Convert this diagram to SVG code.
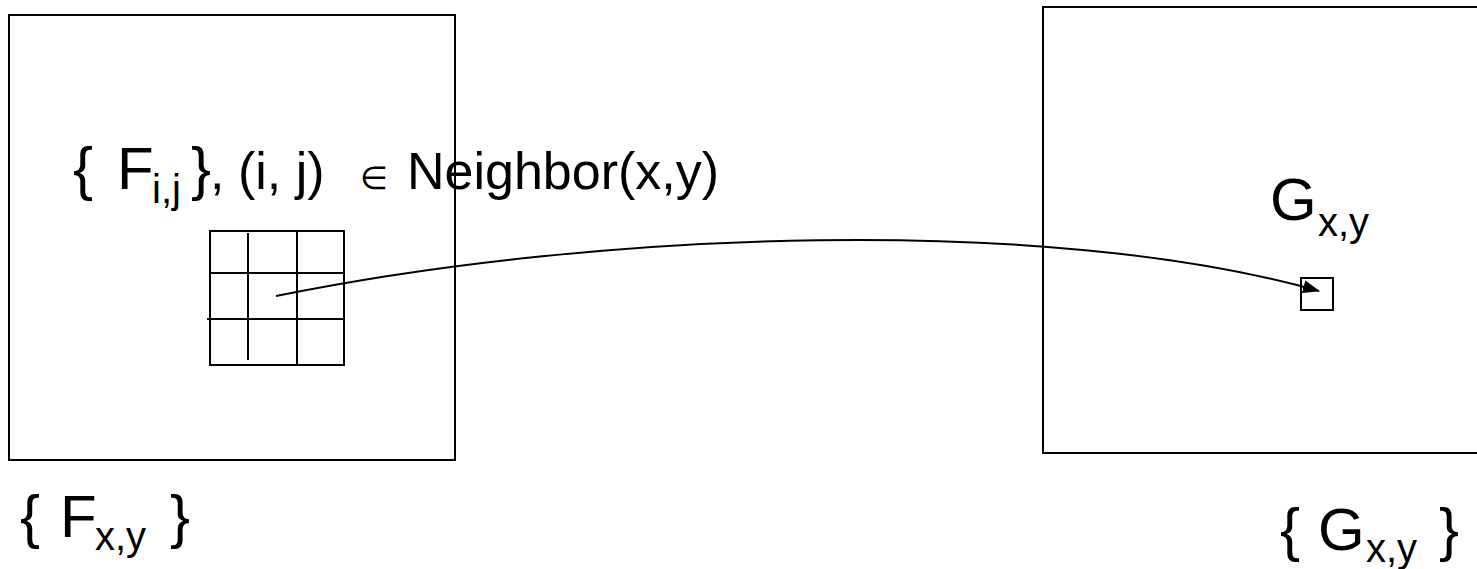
<svg xmlns="http://www.w3.org/2000/svg" width="1477" height="569" viewBox="0 0 1477 569">
<style>
.box{fill:none;stroke:#000;stroke-width:2}
.ln{stroke:#000;stroke-width:2;fill:none}
text{font-family:"Liberation Sans",Arial,sans-serif;fill:#000}
.big{font-size:60px}
.mid{font-size:52px}
.sub{font-size:40px}
.sym{font-family:"DejaVu Sans",sans-serif;font-size:32px}
</style>
<defs>
<marker id="ah" markerWidth="17" markerHeight="13" refX="16" refY="6.5" orient="auto" markerUnits="userSpaceOnUse">
<path d="M0,0 L17,6.5 L0,13 Z" fill="#000"/>
</marker>
</defs>
<rect width="1477" height="569" fill="#fff"/>
<g id="fieldF">
<rect class="box" x="9" y="15" width="446" height="445"/>
</g>
<g id="fieldG">
<rect class="box" x="1043" y="7" width="440" height="446"/>
</g>
<g id="neighborhood">
<rect class="box" x="210" y="231" width="134" height="134"/>
<line class="ln" x1="248" y1="233" x2="248" y2="360"/>
<line class="ln" x1="297" y1="231" x2="297" y2="365"/>
<line class="ln" x1="210" y1="273" x2="344" y2="273"/>
<line class="ln" x1="207" y1="319" x2="344" y2="319"/>
</g>
<g id="pixelG">
<rect class="box" x="1301" y="278" width="32" height="32"/>
</g>
<g id="labelNeighbor">
<text y="189"><tspan class="big" x="73">{</tspan><tspan class="big" x="117">F</tspan><tspan class="sub" x="152" y="203">i,j</tspan><tspan class="big" x="191" y="189">}</tspan><tspan class="mid" x="210">,</tspan><tspan class="mid" x="238">(i, j)</tspan><tspan class="sym" x="360">∈</tspan><tspan class="mid" x="407">Neighbor(x,y)</tspan></text>
</g>
<g id="labelGxy">
<text y="220"><tspan class="big" x="1270">G</tspan><tspan class="sub" x="1318" y="236">x,y</tspan></text>
</g>
<g id="labelFset">
<text y="537"><tspan class="big" x="20">{</tspan><tspan class="big" x="60">F</tspan><tspan class="sub" x="95" y="550">x,y</tspan><tspan class="big" x="170" y="537">}</tspan></text>
</g>
<g id="labelGset">
<text y="550"><tspan class="big" x="1280">{</tspan><tspan class="big" x="1318">G</tspan><tspan class="sub" x="1366" y="562">x,y</tspan><tspan class="big" x="1439" y="550">}</tspan></text>
</g>
<g id="connectors">
<path class="ln" d="M276,296 C600,230 1050,215 1319,291" marker-end="url(#ah)"/>
</g>
</svg>
